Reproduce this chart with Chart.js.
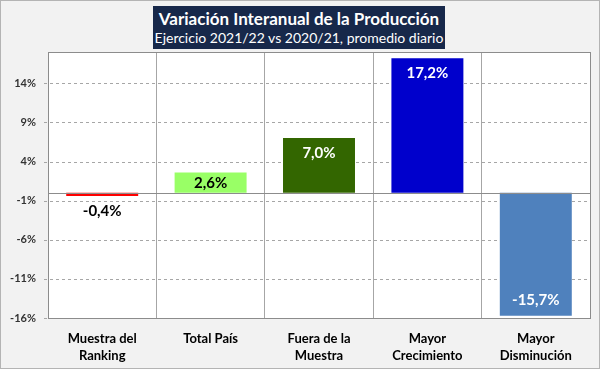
<!DOCTYPE html>
<html>
<head>
<meta charset="utf-8">
<script src="https://cdn.jsdelivr.net/npm/chart.js@4"></script>
<style>
  html, body { margin: 0; padding: 0; }
  body { width: 600px; height: 369px; overflow: hidden; }
  #wrap {
    position: relative; width: 598px; height: 367px;
    background: #f2f2f2; border: 1px solid #b4b4b4;
  }
  #chart { position: absolute; left: 0; top: 0; }
  #title {
    position: absolute; left: 152px; top: 5px; width: 292px; height: 43px;
    background: #17284a; color: #fff; text-align: center; white-space: nowrap;
    font-family: Lato, 'Open Sans', sans-serif; z-index: 2;
  }
  #title .t1 { font-weight: 700; font-size: 17px; line-height: 21px; margin-top: 2px; }
  #title .t2 { font-size: 14px; line-height: 18px; }
</style>
</head>
<body>
<div id="wrap">
  <canvas id="chart" width="598" height="367"></canvas>
  <div id="title">
    <div class="t1">Variación Interanual de la Producción</div>
    <div class="t2">Ejercicio 2021/22 vs 2020/21, promedio diario</div>
  </div>
</div>
<script>
// data
const CATEGORIES = [
  ['Muestra del', 'Ranking'],
  ['Total País'],
  ['Fuera de la', 'Muestra'],
  ['Mayor', 'Crecimiento'],
  ['Mayor', 'Disminución'],
];
const VALUES = [-0.4, 2.6, 7.0, 17.2, -15.7];
const BAR_COLORS = ['#ff0000', '#99ff66', '#336600', '#0000cc', '#4f81bd'];
const LABEL_COLORS = ['#000', '#000', '#fff', '#fff', '#fff'];
const Y_TICKS = [-16, -11, -6, -1, 4, 9, 14];
const Y_MIN = -16;
const Y_MAX = 18;

const FONT = "Lato, 'Open Sans', sans-serif";
const fmtPct = v => v.toFixed(1).replace('.', ',') + '%';

// white plot background
const plotBg = {
  id: 'plotBg',
  beforeDraw(chart) {
    const { ctx, chartArea: a } = chart;
    ctx.save();
    ctx.fillStyle = '#ffffff';
    ctx.fillRect(a.left, a.top, a.right - a.left, a.bottom - a.top);
    ctx.restore();
  },
};

// dashed horizontal grid at the y ticks (drawn behind the bars)
const dashedGrid = {
  id: 'dashedGrid',
  beforeDatasetsDraw(chart) {
    const { ctx, chartArea: a, scales } = chart;
    ctx.save();
    ctx.strokeStyle = '#a6a6a6';
    ctx.lineWidth = 1;
    ctx.setLineDash([3, 3]);
    scales.y.ticks.forEach(t => {
      const y = Math.round(scales.y.getPixelForValue(t.value)) + 0.5;
      ctx.beginPath();
      ctx.moveTo(a.left - 4, y);
      ctx.lineTo(a.right, y);
      ctx.stroke();
    });
    ctx.restore();
  },
};

// frame + zero line
const framePlugin = {
  id: 'frame',
  afterDatasetsDraw(chart) {
    const { ctx, chartArea: a, scales } = chart;
    ctx.save();
    ctx.strokeStyle = '#8c8c8c';
    ctx.lineWidth = 1;
    const y0 = Math.round(scales.y.getPixelForValue(0)) + 0.5;
    ctx.beginPath();
    ctx.moveTo(a.left, y0);
    ctx.lineTo(a.right, y0);
    ctx.stroke();
    ctx.strokeRect(Math.round(a.left) + 0.5, Math.round(a.top) + 0.5,
      Math.round(a.right - a.left), Math.round(a.bottom - a.top));
    ctx.restore();
  },
};

// value labels on bars
const valueLabels = {
  id: 'valueLabels',
  afterDatasetsDraw(chart) {
    const { ctx } = chart;
    const meta = chart.getDatasetMeta(0);
    ctx.save();
    ctx.font = 'bold 15px ' + FONT;
    ctx.textAlign = 'center';
    ctx.textBaseline = 'middle';
    meta.data.forEach((bar, i) => {
      const v = VALUES[i];
      const tall = Math.abs(bar.y - bar.base) > 25;
      let y;
      if (!tall) y = v < 0 ? bar.base + 18 : bar.y + 11;
      else y = v < 0 ? bar.y - 15 : bar.y + 15;
      ctx.fillStyle = LABEL_COLORS[i];
      ctx.fillText(fmtPct(v), bar.x, y);
    });
    ctx.restore();
  },
};

new Chart(document.getElementById('chart'), {
  type: 'bar',
  data: {
    labels: CATEGORIES,
    datasets: [{
      data: VALUES,
      backgroundColor: BAR_COLORS,
      borderWidth: 0,
      barPercentage: 0.8,
      categoryPercentage: 0.83,
    }],
  },
  options: {
    responsive: false,
    animation: false,
    layout: { padding: { top: 51, right: 9, left: 0, bottom: 0 } },
    plugins: {
      legend: { display: false },
      tooltip: { enabled: false },
    },
    scales: {
      x: {
        afterFit: axis => { axis.height = 50; },
        grid: { color: '#a6a6a6', drawTicks: false, offset: true },
        border: { display: false },
        ticks: {
          color: '#000',
          padding: 12,
          font: { family: FONT, size: 13, weight: 'bold', lineHeight: 1.3 },
        },
      },
      y: {
        min: Y_MIN,
        max: Y_MAX,
        afterBuildTicks: axis => { axis.ticks = Y_TICKS.map(v => ({ value: v })); },
        afterFit: axis => { axis.width = 47; },
        grid: { display: false },
        border: { display: false },
        ticks: {
          color: '#333',
          padding: 4,
          font: { family: FONT, size: 11, weight: 'bold' },
          callback: v => v + '%',
        },
      },
    },
  },
  plugins: [plotBg, dashedGrid, framePlugin, valueLabels],
});
</script>
</body>
</html>
